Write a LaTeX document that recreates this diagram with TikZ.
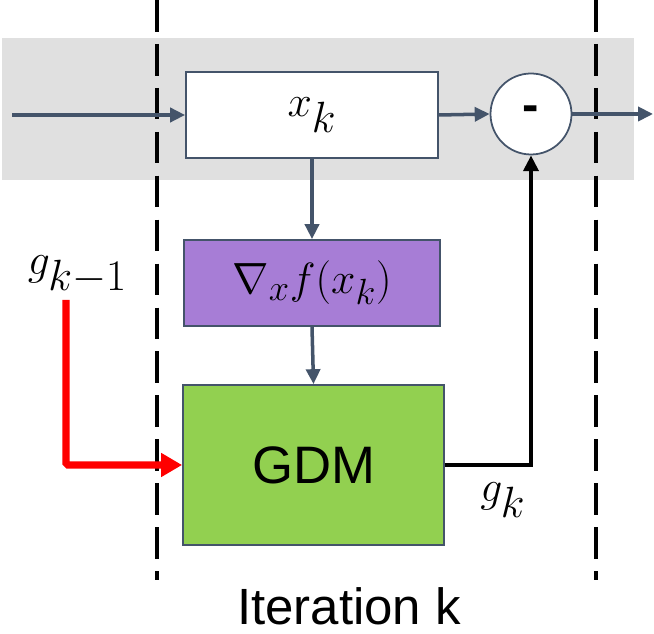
\documentclass[tikz,border=0pt]{standalone}
\usepackage[no-math]{fontspec}
\setmainfont{Liberation Sans}
\usetikzlibrary{arrows.meta}
\definecolor{lnB}{RGB}{68,84,106}
\definecolor{bgG}{RGB}{224,224,224}
\definecolor{fcP}{RGB}{167,125,214}
\definecolor{fcG}{RGB}{146,208,80}
\newcommand{\LX}{3.14}
\newcommand{\RX}{11.92}
\newcommand{\MS}{\fontsize{31}{35}\selectfont}
\newcommand{\ML}{\fontsize{36}{40}\selectfont}

\begin{document}
\begin{tikzpicture}[
    flow/.style={draw=lnB, line width=2pt, -{Triangle[length=8.5pt, width=8pt]}},
    back/.style={draw=black, line width=2.4pt, -{Triangle[length=9pt, width=8.5pt]}},
    carry/.style={draw=red, line width=4pt, rounded corners=1pt, -{Triangle[length=12pt, width=13pt]}},
    sep/.style={draw=black, line width=2.2pt, dash pattern=on 18pt off 7pt},
    blk/.style={rectangle, draw=lnB, line width=1pt, inner sep=0pt},
    sub/.style={circle, draw=lnB, line width=1pt, fill=white, minimum size=1.62cm, inner sep=0pt},
    lbl/.style={font=\ML},
  ]
  \useasboundingbox (0,0) rectangle (13.08,12.68);

  % shaded state band
  \fill[bgG] (0.04,9.08) rectangle (12.68,11.92);

  % iteration boundaries
  \draw[sep] (\LX,12.68) -- (\LX,1.08);
  \draw[sep] (\RX,12.68) -- (\RX,1.08);

  \node[blk, fill=white, minimum width=5.04cm, minimum height=1.72cm] (xk) at (6.24,10.38) {\ML$x_k$};
  \node[sub] (minus) at (10.62,10.40) {\fontsize{28}{32}\selectfont\bfseries -};
  \node[blk, fill=fcP, minimum width=5.12cm, minimum height=1.72cm] (grad) at (6.24,7.02) {\MS$\nabla_{x} f(x_k)$};
  \node[blk, fill=fcG, minimum width=5.22cm, minimum height=3.2cm] (gdm) at (6.27,3.38) {\fontsize{30}{34}\selectfont GDM};

  \node[lbl] (gprev) at (1.55,7.18) {$g_{k-1}$};
  \node[lbl] (gk) at (10.06,2.68) {$g_k$};
  \node[font=\fontsize{29}{34}\selectfont, inner sep=0pt] (iter) at (6.98,0.55) {Iteration k};

  \coordinate (in)  at (0.24,10.38);
  \coordinate (out) at (13.06,10.40);
  \coordinate (rtop) at (1.32,6.68);

  \draw[flow] (in) -- (xk.west);
  \draw[flow] (xk.east) -- (minus.west);
  \draw[flow] (minus.east) -- (out);
  \draw[flow] (xk.south) -- (grad.north);
  \draw[flow] (grad.south) -- (gdm.north);

  \draw[carry] (rtop) |- (gdm.west);
  \draw[back] (gdm.east) -| (minus.south);

\end{tikzpicture}
\end{document}
